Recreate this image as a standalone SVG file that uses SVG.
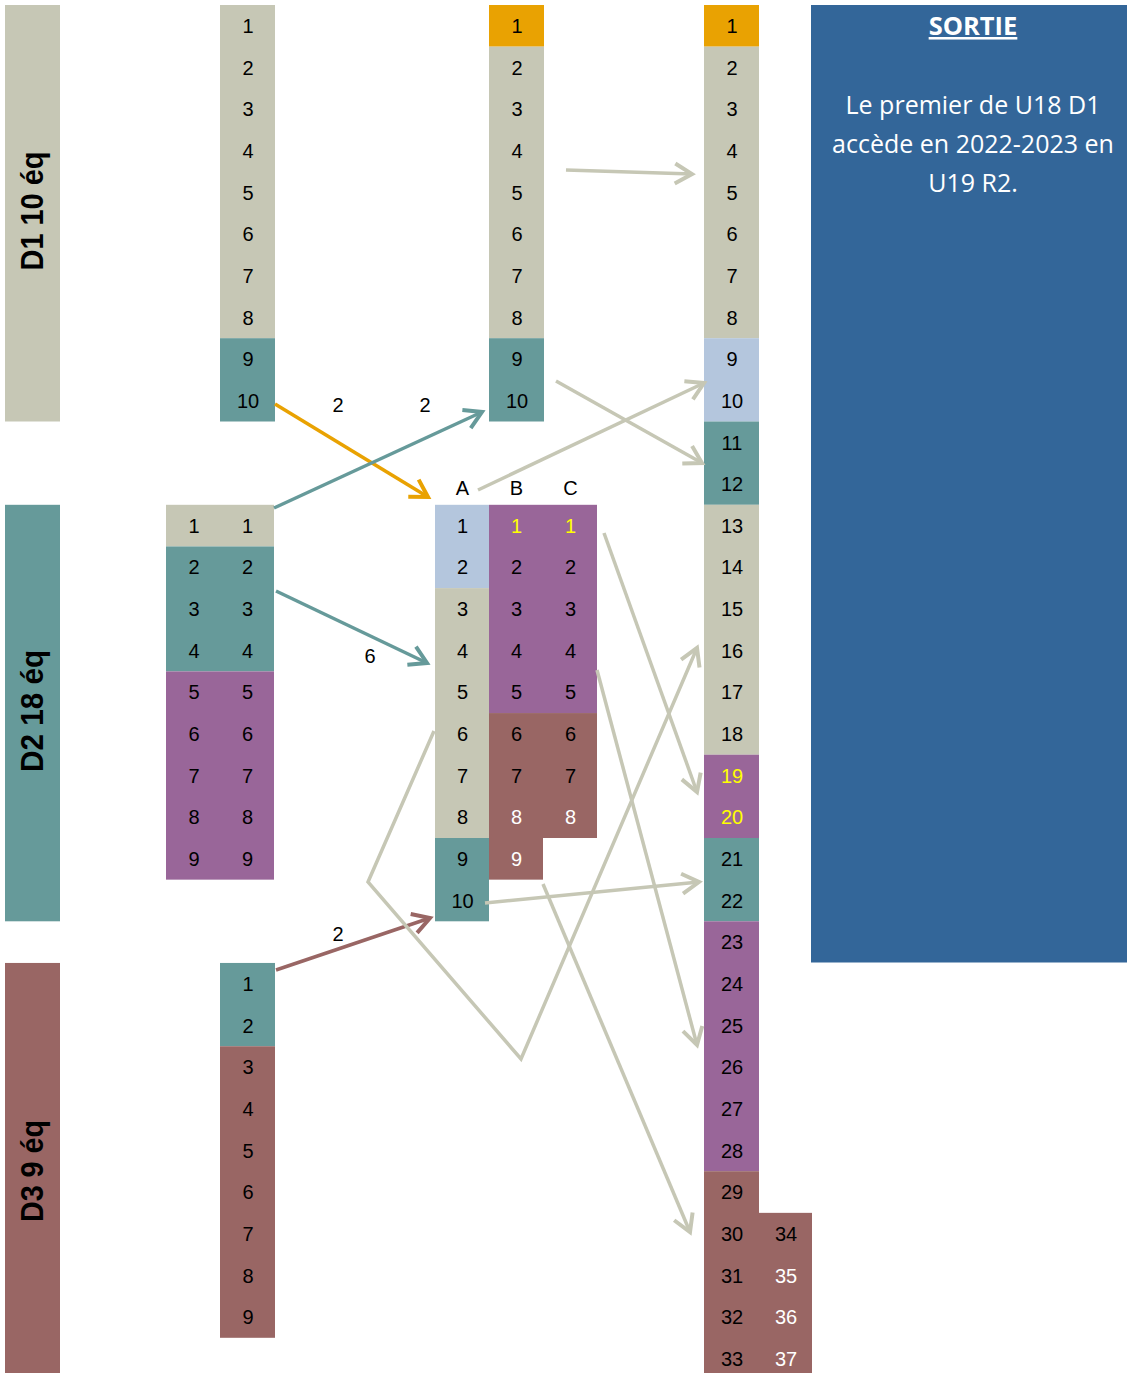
<svg xmlns="http://www.w3.org/2000/svg" width="1127" height="1373" viewBox="0 0 1127 1373">
<style>
.be{fill:#C6C7B5}.te{fill:#669A9A}.pu{fill:#996699}.br{fill:#996664}.lb{fill:#B4C6DD}.or{fill:#E9A202}
.n{font-family:"Liberation Sans",Arial,sans-serif;font-size:20px;text-anchor:middle;fill:#000}
.y{fill:#FFFF00}.w{fill:#FFFFFF}
.lab{font-family:"Liberation Sans",Arial,sans-serif;font-size:31px;font-weight:bold;text-anchor:middle;fill:#000}
.s{font-family:"Open Sans","Noto Sans",sans-serif;fill:#FFFFFF;text-anchor:middle}
.c{fill:none;stroke-width:3.5}
</style>
<defs>
<marker id="mBe" viewBox="-22 -14 28 28" refX="0" refY="0" markerWidth="28" markerHeight="28" markerUnits="userSpaceOnUse" orient="auto" overflow="visible"><path d="M-17 -10 L0 0 L-17 10" fill="none" stroke="#C6C7B5" stroke-width="4"/></marker>
<marker id="mOr" viewBox="-22 -14 28 28" refX="0" refY="0" markerWidth="28" markerHeight="28" markerUnits="userSpaceOnUse" orient="auto" overflow="visible"><path d="M-17 -10 L0 0 L-17 10" fill="none" stroke="#E9A202" stroke-width="4"/></marker>
<marker id="mTe" viewBox="-22 -14 28 28" refX="0" refY="0" markerWidth="28" markerHeight="28" markerUnits="userSpaceOnUse" orient="auto" overflow="visible"><path d="M-17 -10 L0 0 L-17 10" fill="none" stroke="#669A9A" stroke-width="4"/></marker>
<marker id="mBr" viewBox="-22 -14 28 28" refX="0" refY="0" markerWidth="28" markerHeight="28" markerUnits="userSpaceOnUse" orient="auto" overflow="visible"><path d="M-17 -10 L0 0 L-17 10" fill="none" stroke="#996664" stroke-width="4"/></marker>
</defs>
<rect width="1127" height="1373" fill="#FFFFFF"/>

<g id="label-d1"><rect class="be" x="5" y="5" width="55" height="416.5"/><text class="lab" x="43" y="211" transform="rotate(-90 43 211)" textLength="119" lengthAdjust="spacingAndGlyphs">D1 10 éq</text></g>
<g id="label-d2"><rect class="te" x="5" y="504.8" width="55" height="416.5"/><text class="lab" x="43" y="711" transform="rotate(-90 43 711)" textLength="122" lengthAdjust="spacingAndGlyphs">D2 18 éq</text></g>
<g id="label-d3"><rect class="br" x="5" y="962.95" width="55" height="412"/><text class="lab" x="43" y="1171" transform="rotate(-90 43 1171)" textLength="102" lengthAdjust="spacingAndGlyphs">D3 9 éq</text></g>

<g id="col-d1">
<rect class="be" x="220" y="5" width="55" height="333.2"/><rect class="te" x="220" y="338.2" width="55" height="83.3"/>
<text class="n" x="248" y="33">1</text><text class="n" x="248" y="74.65">2</text><text class="n" x="248" y="116.3">3</text><text class="n" x="248" y="157.95">4</text><text class="n" x="248" y="199.6">5</text><text class="n" x="248" y="241.25">6</text><text class="n" x="248" y="282.9">7</text><text class="n" x="248" y="324.55">8</text><text class="n" x="248" y="366.2">9</text><text class="n" x="248" y="407.85">10</text>
</g>

<g id="col-top2">
<rect class="or" x="489" y="5" width="55" height="41.65"/><rect class="be" x="489" y="46.65" width="55" height="291.55"/><rect class="te" x="489" y="338.2" width="55" height="83.3"/>
<text class="n" x="517" y="33">1</text><text class="n" x="517" y="74.65">2</text><text class="n" x="517" y="116.3">3</text><text class="n" x="517" y="157.95">4</text><text class="n" x="517" y="199.6">5</text><text class="n" x="517" y="241.25">6</text><text class="n" x="517" y="282.9">7</text><text class="n" x="517" y="324.55">8</text><text class="n" x="517" y="366.2">9</text><text class="n" x="517" y="407.85">10</text>
</g>

<g id="col-d2">
<rect class="be" x="166" y="504.8" width="108" height="41.65"/><rect class="te" x="166" y="546.45" width="108" height="124.95"/><rect class="pu" x="166" y="671.4" width="108" height="208.25"/>
<text class="n" x="194" y="532.8">1</text><text class="n" x="247.5" y="532.8">1</text>
<text class="n" x="194" y="574.45">2</text><text class="n" x="247.5" y="574.45">2</text>
<text class="n" x="194" y="616.1">3</text><text class="n" x="247.5" y="616.1">3</text>
<text class="n" x="194" y="657.75">4</text><text class="n" x="247.5" y="657.75">4</text>
<text class="n" x="194" y="699.4">5</text><text class="n" x="247.5" y="699.4">5</text>
<text class="n" x="194" y="741.05">6</text><text class="n" x="247.5" y="741.05">6</text>
<text class="n" x="194" y="782.7">7</text><text class="n" x="247.5" y="782.7">7</text>
<text class="n" x="194" y="824.35">8</text><text class="n" x="247.5" y="824.35">8</text>
<text class="n" x="194" y="866">9</text><text class="n" x="247.5" y="866">9</text>
</g>

<g id="col-d3">
<rect class="te" x="220" y="962.95" width="55" height="83.3"/><rect class="br" x="220" y="1046.25" width="55" height="291.55"/>
<text class="n" x="248" y="990.95">1</text><text class="n" x="248" y="1032.6">2</text><text class="n" x="248" y="1074.25">3</text><text class="n" x="248" y="1115.9">4</text><text class="n" x="248" y="1157.55">5</text><text class="n" x="248" y="1199.2">6</text><text class="n" x="248" y="1240.85">7</text><text class="n" x="248" y="1282.5">8</text><text class="n" x="248" y="1324.15">9</text>
</g>

<g id="col-abc">
<text class="n" x="462.5" y="495">A</text><text class="n" x="516.5" y="495">B</text><text class="n" x="570.5" y="495">C</text>
<rect class="lb" x="435" y="504.8" width="54" height="83.3"/><rect class="be" x="435" y="588.1" width="54" height="249.9"/><rect class="te" x="435" y="838" width="54" height="83.3"/>
<rect class="pu" x="489" y="504.8" width="108" height="208.25"/><rect class="br" x="489" y="713.05" width="54" height="166.6"/><rect class="br" x="543" y="713.05" width="54" height="124.95"/>
<text class="n" x="462.5" y="532.8">1</text><text class="n y" x="516.5" y="532.8">1</text><text class="n y" x="570.5" y="532.8">1</text>
<text class="n" x="462.5" y="574.45">2</text><text class="n" x="516.5" y="574.45">2</text><text class="n" x="570.5" y="574.45">2</text>
<text class="n" x="462.5" y="616.1">3</text><text class="n" x="516.5" y="616.1">3</text><text class="n" x="570.5" y="616.1">3</text>
<text class="n" x="462.5" y="657.75">4</text><text class="n" x="516.5" y="657.75">4</text><text class="n" x="570.5" y="657.75">4</text>
<text class="n" x="462.5" y="699.4">5</text><text class="n" x="516.5" y="699.4">5</text><text class="n" x="570.5" y="699.4">5</text>
<text class="n" x="462.5" y="741.05">6</text><text class="n" x="516.5" y="741.05">6</text><text class="n" x="570.5" y="741.05">6</text>
<text class="n" x="462.5" y="782.7">7</text><text class="n" x="516.5" y="782.7">7</text><text class="n" x="570.5" y="782.7">7</text>
<text class="n" x="462.5" y="824.35">8</text><text class="n w" x="516.5" y="824.35">8</text><text class="n w" x="570.5" y="824.35">8</text>
<text class="n" x="462.5" y="866">9</text><text class="n w" x="516.5" y="866">9</text>
<text class="n" x="462.5" y="907.65">10</text>
</g>

<g id="col-final">
<rect class="or" x="704" y="5" width="55" height="41.65"/><rect class="be" x="704" y="46.65" width="55" height="291.55"/><rect class="lb" x="704" y="338.2" width="55" height="83.3"/><rect class="te" x="704" y="421.5" width="55" height="83.3"/><rect class="be" x="704" y="504.8" width="55" height="249.9"/><rect class="pu" x="704" y="754.7" width="55" height="83.3"/><rect class="te" x="704" y="838" width="55" height="83.3"/><rect class="pu" x="704" y="921.3" width="55" height="249.9"/><rect class="br" x="704" y="1171.2" width="55" height="210"/><rect class="br" x="759" y="1212.85" width="53" height="170"/>
<text class="n" x="732" y="33">1</text><text class="n" x="732" y="74.65">2</text><text class="n" x="732" y="116.3">3</text><text class="n" x="732" y="157.95">4</text><text class="n" x="732" y="199.6">5</text><text class="n" x="732" y="241.25">6</text><text class="n" x="732" y="282.9">7</text><text class="n" x="732" y="324.55">8</text><text class="n" x="732" y="366.2">9</text><text class="n" x="732" y="407.85">10</text>
<text class="n" x="732" y="449.5">11</text><text class="n" x="732" y="491.15">12</text><text class="n" x="732" y="532.8">13</text><text class="n" x="732" y="574.45">14</text><text class="n" x="732" y="616.1">15</text><text class="n" x="732" y="657.75">16</text><text class="n" x="732" y="699.4">17</text><text class="n" x="732" y="741.05">18</text><text class="n y" x="732" y="782.7">19</text><text class="n y" x="732" y="824.35">20</text>
<text class="n" x="732" y="866">21</text><text class="n" x="732" y="907.65">22</text><text class="n" x="732" y="949.3">23</text><text class="n" x="732" y="990.95">24</text><text class="n" x="732" y="1032.6">25</text><text class="n" x="732" y="1074.25">26</text><text class="n" x="732" y="1115.9">27</text><text class="n" x="732" y="1157.55">28</text><text class="n" x="732" y="1199.2">29</text><text class="n" x="732" y="1240.85">30</text>
<text class="n" x="732" y="1282.5">31</text><text class="n" x="732" y="1324.15">32</text><text class="n" x="732" y="1365.8">33</text>
<text class="n" x="786" y="1240.85">34</text><text class="n w" x="786" y="1282.5">35</text><text class="n w" x="786" y="1324.15">36</text><text class="n w" x="786" y="1365.8">37</text>
</g>

<g id="sortie">
<rect x="811" y="5" width="316" height="957.5" fill="#336699"/>
<text class="s" x="973" y="35" font-size="25.5" font-weight="bold" text-decoration="underline">SORTIE</text>
<text class="s" x="973" y="114" font-size="25">Le premier de U18 D1</text>
<text class="s" x="973" y="153" font-size="25">accède en 2022-2023 en</text>
<text class="s" x="973" y="192" font-size="25">U19 R2.</text>
</g>

<g id="connectors">
<path class="c" stroke="#C6C7B5" marker-end="url(#mBe)" d="M566,170 L692,174"/>
<path class="c" stroke="#C6C7B5" marker-end="url(#mBe)" d="M556,381 L702,463"/>
<path class="c" stroke="#C6C7B5" marker-end="url(#mBe)" d="M478,490 L704,383"/>
<path class="c" stroke="#E9A202" marker-end="url(#mOr)" d="M275,404 L428,497"/>
<path class="c" stroke="#669A9A" marker-end="url(#mTe)" d="M274,508 L482,412"/>
<path class="c" stroke="#669A9A" marker-end="url(#mTe)" d="M276,591 L427,663"/>
<path class="c" stroke="#996664" marker-end="url(#mBr)" d="M276,970 L430,918"/>
<path class="c" stroke="#C6C7B5" marker-end="url(#mBe)" d="M604,533 L697,792"/>
<path class="c" stroke="#C6C7B5" marker-end="url(#mBe)" d="M597,670 L697,1045"/>
<path class="c" stroke="#C6C7B5" marker-end="url(#mBe)" d="M434,731 L368,882 L521,1059 L697,648"/>
<path class="c" stroke="#C6C7B5" marker-end="url(#mBe)" d="M485,903 L699,882"/>
<path class="c" stroke="#C6C7B5" marker-end="url(#mBe)" d="M543,884 L690,1232"/>
<text class="n" x="338" y="412">2</text>
<text class="n" x="425" y="412">2</text>
<text class="n" x="370" y="663">6</text>
<text class="n" x="338" y="941">2</text>
</g>
</svg>
